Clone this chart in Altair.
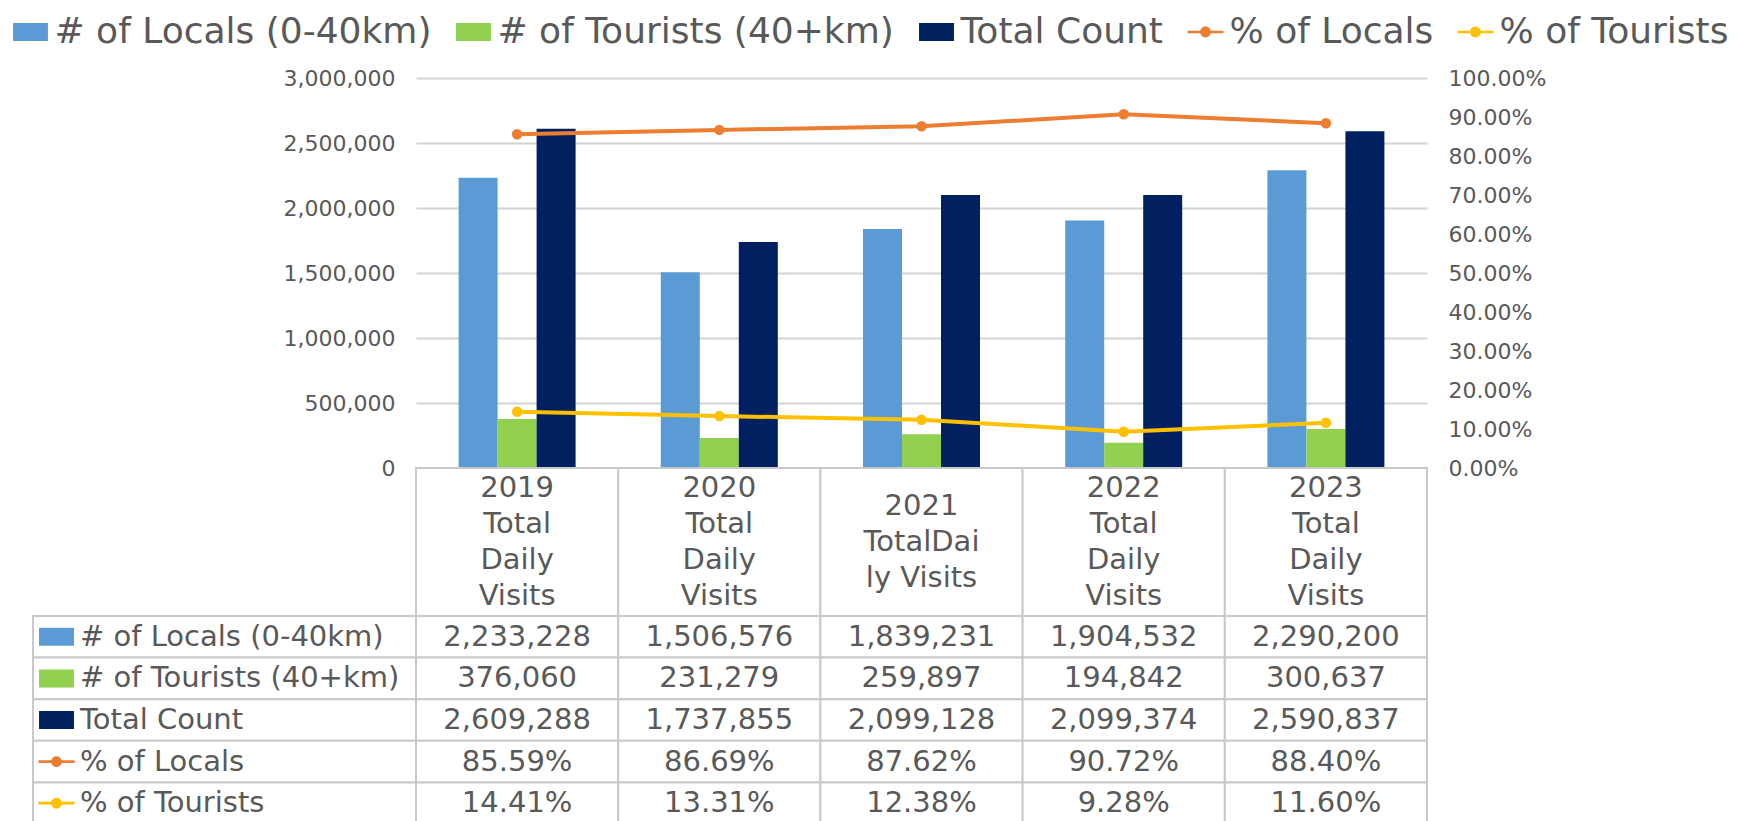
import altair as alt
import pandas as pd

# ---------------- data ----------------
years = ["2019", "2020", "2021", "2022", "2023"]
header_labels = [
    "2019\nTotal\nDaily\nVisits",
    "2020\nTotal\nDaily\nVisits",
    "2021\nTotalDai\nly Visits",
    "2022\nTotal\nDaily\nVisits",
    "2023\nTotal\nDaily\nVisits",
]
series = ["# of Locals (0-40km)", "# of Tourists (40+km)", "Total Count",
          "% of Locals", "% of Tourists"]
locals_count = [2233228, 1506576, 1839231, 1904532, 2290200]
tourists_count = [376060, 231279, 259897, 194842, 300637]
total_count = [2609288, 1737855, 2099128, 2099374, 2590837]
locals_pct = [0.8559, 0.8669, 0.8762, 0.9072, 0.8840]
tourists_pct = [0.1441, 0.1331, 0.1238, 0.0928, 0.1160]
count_ticks = [0, 500000, 1000000, 1500000, 2000000, 2500000, 3000000]
pct_ticks = [0.0, 0.1, 0.2, 0.3, 0.4, 0.5, 0.6, 0.7, 0.8, 0.9, 1.0]

# ---------------- styles ----------------
colors = ["#5B9BD5", "#92D050", "#002060", "#ED7D31", "#FFC000"]
rect_path = "M-0.97,-0.5H0.97V0.5H-0.97Z"
line_path = "M-1,-0.075H1V0.075H-1Z M0.3,0A0.3,0.3 0 1,1 -0.3,0A0.3,0.3 0 1,1 0.3,0Z"
shapes = [rect_path, rect_path, rect_path, line_path, line_path]
FONT = "DejaVu Sans"
TXT = "#595959"
BORDER = "#c9c9c9"
LINE_H = 36

bar_series = series[:3]
line_series = series[3:]
counts = [locals_count, tourists_count, total_count]
pcts = [locals_pct, tourists_pct]

bars_df = pd.DataFrame(
    [{"year": y, "series": s, "value": vals[i]}
     for s, vals in zip(bar_series, counts) for i, y in enumerate(years)]
)
lines_df = pd.DataFrame(
    [{"year": y, "series": s, "pct": vals[i]}
     for s, vals in zip(line_series, pcts) for i, y in enumerate(years)]
)
table_rows = []
for s, vals in zip(bar_series, counts):
    for i, y in enumerate(years):
        table_rows.append({"year": y, "series": s, "text": f"{vals[i]:,}"})
for s, vals in zip(line_series, pcts):
    for i, y in enumerate(years):
        table_rows.append({"year": y, "series": s, "text": f"{vals[i]:.2%}"})
table_df = pd.DataFrame(table_rows)
header_df = pd.DataFrame({"year": years, "label": header_labels})
header_df["nlines"] = header_df["label"].str.count("\n") + 1
labels_df = pd.DataFrame({"series": series})

color_scale = alt.Scale(domain=series, range=colors)

# ---------------- main chart ----------------
x_main = alt.X("year:N", sort=years,
               scale=alt.Scale(domain=years, paddingInner=0.4214, paddingOuter=0.2107),
               axis=None)

bars = alt.Chart(bars_df).mark_bar().encode(
    x=x_main,
    xOffset=alt.XOffset("series:N", sort=bar_series,
                        scale=alt.Scale(domain=bar_series, paddingInner=0, paddingOuter=0)),
    y=alt.Y("value:Q", scale=alt.Scale(domain=[0, 3000000], nice=False),
            axis=alt.Axis(values=count_ticks, format=",.0f", grid=True,
                          gridColor="#d4d4d4", gridWidth=2, domain=False, ticks=False,
                          labelPadding=21, labelFontSize=22, labelColor=TXT,
                          labelFont=FONT, title=None)),
    color=alt.Color("series:N", scale=color_scale, legend=None),
)

y_pct = alt.Y("pct:Q", scale=alt.Scale(domain=[0, 1], nice=False),
              axis=alt.Axis(orient="right", values=pct_ticks, format=".2%", grid=False,
                            domain=False, ticks=False, labelPadding=21, labelFontSize=22,
                            labelColor=TXT, labelFont=FONT, title=None))

lines = alt.Chart(lines_df).mark_line(strokeWidth=4).encode(
    x=x_main, y=y_pct,
    color=alt.Color("series:N", scale=color_scale, legend=None),
)
points = alt.Chart(lines_df).mark_point(filled=True, size=110, opacity=1).encode(
    x=x_main, y=y_pct,
    color=alt.Color("series:N", scale=color_scale, legend=None),
)

main = alt.layer(bars, alt.layer(lines, points)).resolve_scale(y="independent").properties(
    width=1011, height=390)

# ---------------- table ----------------
x_tab = alt.X("year:N", sort=years,
              scale=alt.Scale(domain=years, paddingInner=0, paddingOuter=0), axis=None)
y_tab = alt.Y("series:N", sort=series,
              scale=alt.Scale(domain=series, paddingInner=0, paddingOuter=0), axis=None)

header_base = alt.Chart(header_df).encode(x=x_tab)
header_text_layers = [
    header_base.transform_filter(f"datum.nlines == {n}").mark_text(
        fontSize=29, font=FONT, color=TXT, lineBreak="\n", lineHeight=LINE_H,
        baseline="middle", dy=-(n - 1) * LINE_H / 2,
    ).encode(text="label:N")
    for n in sorted(header_df["nlines"].unique())
]
header = alt.layer(
    header_base.mark_rect(fill="white", stroke=BORDER, strokeWidth=2),
    *header_text_layers,
).properties(width=1011, height=148)

body_base = alt.Chart(table_df).encode(x=x_tab, y=y_tab)
body = alt.layer(
    body_base.mark_rect(fill="white", stroke=BORDER, strokeWidth=2),
    body_base.mark_text(fontSize=29, font=FONT, color=TXT).encode(text="text:N"),
).properties(width=1011, height=208)

legend = alt.Legend(
    orient="none", legendX=-20.5, legendY=-602, direction="horizontal", title=None,
    labelFontSize=36, labelFont=FONT, labelColor=TXT, labelLimit=1000,
    symbolSize=1296, labelOffset=6, columnPadding=24, symbolStrokeWidth=0,
)

labels_base = alt.Chart(labels_df).encode(y=y_tab)
labels = alt.layer(
    labels_base.mark_rect(fill="white", stroke=BORDER, strokeWidth=2),
    labels_base.mark_point(filled=True, size=1296, opacity=1, strokeWidth=0).encode(
        x=alt.value(23.5),
        color=alt.Color("series:N", scale=color_scale, legend=legend),
        shape=alt.Shape("series:N", scale=alt.Scale(domain=series, range=shapes),
                        legend=legend),
    ),
    labels_base.mark_text(align="left", fontSize=29, font=FONT, color=TXT).encode(
        x=alt.value(47), text="series:N"),
).properties(width=383, height=208)

spacer_df = pd.DataFrame({"s": [0]})


def spacer(h):
    return alt.Chart(spacer_df).mark_point(opacity=0).encode(
        x=alt.value(0), y=alt.value(0)).properties(width=383, height=h)


chart = alt.concat(
    spacer(390), main,
    spacer(148), header,
    labels, body,
    columns=2, spacing=0, bounds="flush",
).resolve_scale(
    color="independent", shape="independent"
).properties(
    padding={"left": 4, "top": 6, "right": 0, "bottom": 0}
).configure(font=FONT).configure_view(stroke=None)

chart.save("out.html", embed_options={"renderer": "svg", "actions": False})
